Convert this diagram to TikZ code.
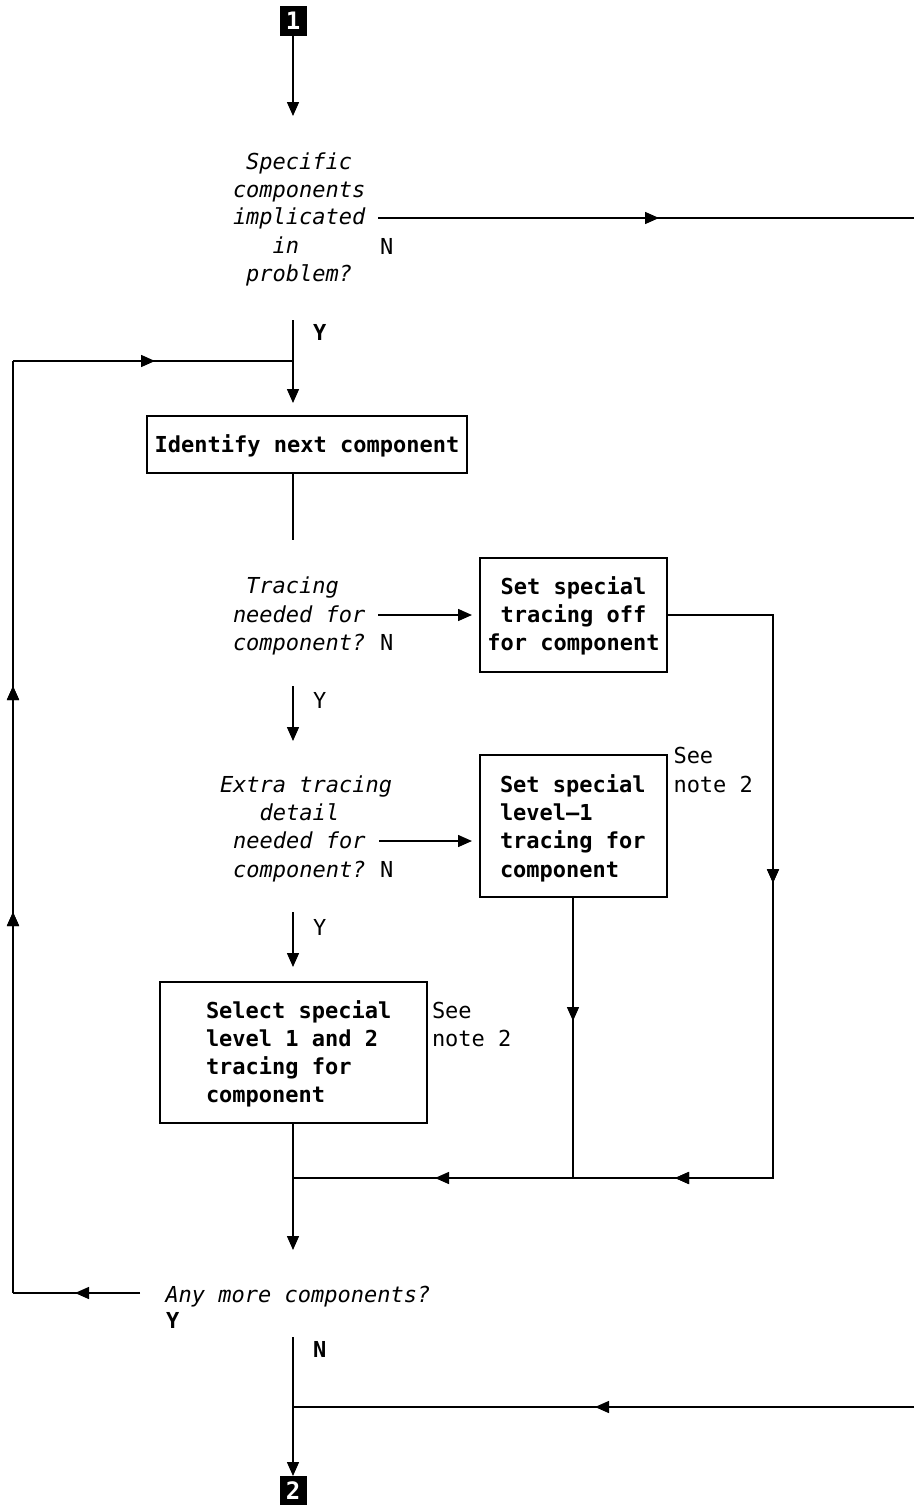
\documentclass[tikz,border=0pt]{standalone}
\usepackage{fontspec}
\setmonofont{DejaVu Sans Mono}
\usetikzlibrary{arrows.meta,decorations.markings}
\newcommand{\ssp}{\hphantom{x}}
\tikzset{
  every node/.style={inner sep=0pt, outer sep=0pt, font=\ttfamily\fontsize{22}{28}\selectfont},
  ln/.style={line width=1.5pt},
  tipend/.style={-{Triangle[length=14pt,width=12pt]}},
  midarr/.style={postaction={decorate}, decoration={markings, mark=at position #1 with {\arrow{Triangle[length=14pt,width=12pt]}}}},
  txt/.style={anchor=base west},
  itxt/.style={anchor=base west, font=\ttfamily\itshape\fontsize{22}{28}\selectfont},
  btxt/.style={anchor=base west, font=\ttfamily\bfseries\fontsize{22}{28}\selectfont},
  bctxt/.style={anchor=base, font=\ttfamily\bfseries\fontsize{22}{28}\selectfont},
  stepbox/.style={draw, line width=1.5pt, minimum width=#1},
  tagbox/.style={fill=black, minimum width=27pt, minimum height=30pt, text=white, font=\ttfamily\bfseries\fontsize{24}{28}\selectfont},
}
\begin{document}
\begin{tikzpicture}[x=1pt,y=-1pt]
\useasboundingbox (0,0) rectangle (914,1505);

% start tag
\node[tagbox] (t1) at (293,21) {1};
\coordinate (a1) at (293,116);
\draw[ln,tipend] (t1.south) -- (a1);

% decision 1
\node[itxt] (d1a) at (233,169) {\ssp Specific};
\node[itxt] (d1b) at (233,197) {components};
\node[itxt] (d1c) at (233,224) {implicated};
\node[itxt] (d1d) at (233,253) {\ssp\ssp\ssp in};
\node[itxt] (d1e) at (233,281) {\ssp problem?};
\node[txt] (d1n) at (380,254) {N};
\node[btxt] (d1y) at (313,340) {Y};
\coordinate (d1out) at (378,218);
\coordinate (d1end) at (914,218);
\draw[ln,midarr=281pt] (d1out) -- (d1end);

% Y to identify
\coordinate (d1ys) at (293,320);
\coordinate (j1) at (293,361);
\coordinate (a2) at (293,403);
\draw[ln,tipend] (d1ys) -- (a2);

% identify box
\node[stepbox=320pt, minimum height=57pt] (b1) at (307,444.5) {};
\node[bctxt] (b1t) at (307,452) {Identify next component};
\coordinate (b1s) at (293,473);
\coordinate (b1e) at (293,540);
\draw[ln] (b1s) -- (b1e);

% decision 2
\node[itxt] (d2a) at (233,593) {\ssp Tracing};
\node[itxt] (d2b) at (233,622) {needed for};
\node[itxt] (d2c) at (233,650) {component?};
\node[txt] (d2n) at (380,650) {N};
\coordinate (d2out) at (378,615);
\node[stepbox=187pt, minimum height=114pt] (b2) at (573.5,615) {};
\node[bctxt] (b2a) at (573.5,594) {Set special};
\node[bctxt] (b2b) at (573.5,622) {tracing off};
\node[bctxt] (b2c) at (573.5,650) {for component};
\draw[ln,tipend,shorten >=8pt] (d2out) -- (d2out -| b2.west);
\coordinate (d2ys) at (293,686);
\coordinate (a3) at (293,741);
\draw[ln,tipend] (d2ys) -- (a3);
\node[txt] (d2y) at (313,708) {Y};

% decision 3
\node[itxt] (d3a) at (220,792) {Extra tracing};
\node[itxt] (d3b) at (220,820) {\ssp\ssp\ssp detail};
\node[itxt] (d3c) at (220,848) {\ssp needed for};
\node[itxt] (d3d) at (220,877) {\ssp component?};
\node[txt] (d3n) at (380,877) {N};
\coordinate (d3out) at (379,841);
\node[stepbox=187pt, minimum height=142pt] (b3) at (573.5,826) {};
\node[btxt] (b3a) at (500,792) {Set special};
\node[btxt] (b3b) at (500,820) {level–1};
\node[btxt] (b3c) at (500,848) {tracing for};
\node[btxt] (b3d) at (500,877) {component};
\node[txt] (b3s) at (673.5,763) {See};
\node[txt] (b3n) at (673.5,792) {note 2};
\draw[ln,tipend,shorten >=8pt] (d3out) -- (d3out -| b3.west);
\coordinate (d3ys) at (293,912);
\coordinate (a4) at (293,967);
\draw[ln,tipend] (d3ys) -- (a4);
\node[txt] (d3y) at (313,935) {Y};

% box 4
\node[stepbox=267pt, minimum height=141pt] (b4) at (293.5,1052.5) {};
\node[btxt] (b4a) at (206,1018) {Select special};
\node[btxt] (b4b) at (206,1046) {level 1 and 2};
\node[btxt] (b4c) at (206,1074) {tracing for};
\node[btxt] (b4d) at (206,1102) {component};
\node[txt] (b4s) at (432,1018) {See};
\node[txt] (b4n) at (432,1046) {note 2};

% merge lines
\coordinate (r1) at (773,615);
\coordinate (r2) at (773,1178);
\coordinate (m1) at (573,1178);
\coordinate (m2) at (293,1178);
\draw[ln,midarr=374pt,midarr=767pt] (b2.east) -- (r1) -- (r2) -- (m1);
\draw[ln,midarr=124pt] (b3.south -| m1) -- (m1);
\draw[ln,midarr=138pt] (m1) -- (m2);
\coordinate (b4s2) at (293,1123);
\coordinate (a5) at (293,1250);
\draw[ln,tipend] (b4s2) -- (a5);

% decision 4
\node[itxt] (d4) at (165.5,1302) {Any more components?};
\node[btxt] (d4y) at (166,1328) {Y};
\coordinate (d4l) at (140,1293);
\coordinate (l1) at (13,1293);
\coordinate (l2) at (13,361);
\draw[ln,midarr=65pt] (d4l) -- (l1);
\draw[ln,midarr=381pt,midarr=607pt] (l1) -- (l2);
\draw[ln,midarr=142pt] (l2) -- (j1);

% N branch
\coordinate (d4ns) at (293,1337);
\node[btxt] (d4n) at (313,1357) {N};
\node[tagbox] (t2) at (293,1491) {2};
\coordinate (j2) at (293,1407);
\coordinate (rin) at (914,1407);
\draw[ln,tipend] (d4ns) -- (t2.north);
\draw[ln,midarr=319pt] (rin) -- (j2);
\end{tikzpicture}
\end{document}
